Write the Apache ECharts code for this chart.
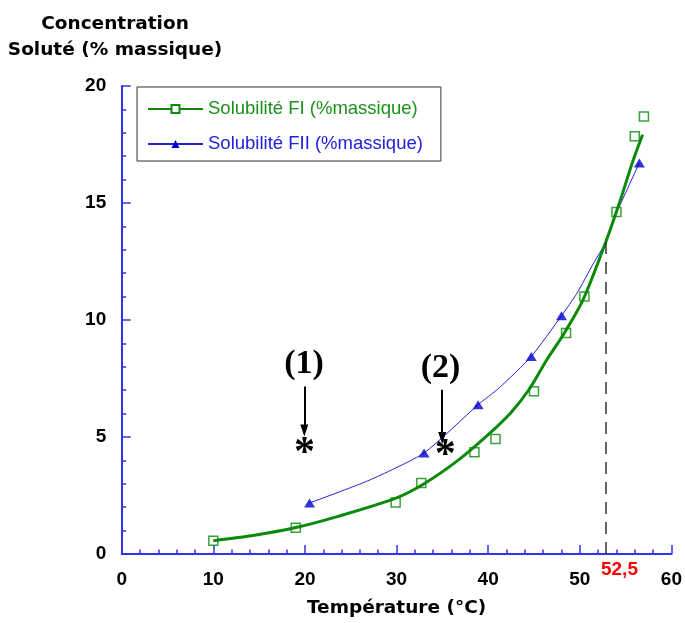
<!DOCTYPE html>
<html><head><meta charset="utf-8">
<script src="https://cdn.jsdelivr.net/npm/echarts@6/dist/echarts.min.js"></script>
<style>html,body{margin:0;padding:0;background:#fff}#c{width:685px;height:623px}</style>
</head><body><div id="c"></div>
<script>
// ---- data ----
const fiName = 'Solubilité FI (%massique)';
const fiiName = 'Solubilité FII (%massique)';
// fitted curve FI
const fiCurveX = [10, 14.5, 19, 23.7, 30, 33, 36.7, 40, 42.5, 44.5, 46.4, 48.4, 50.4, 52.8, 54.4, 55.8, 56.85];
const fiCurveY = [0.57, 0.8, 1.13, 1.62, 2.4, 3.0, 4.0, 5.1, 6.05, 7.05, 8.3, 9.5, 10.9, 13.3, 15.1, 16.8, 17.92];
// measured points FI (squares)
const fiX = [10.0, 19.0, 29.9, 32.7, 38.5, 40.8, 45.0, 48.5, 50.5, 54.0, 56.0, 57.0];
const fiY = [0.57, 1.12, 2.2, 3.03, 4.35, 4.91, 6.95, 9.44, 11.0, 14.62, 17.85, 18.7];
// measured points FII (triangles)
const fiiX = [20.5, 33.0, 38.9, 44.7, 48.0, 56.5];
const fiiY = [2.18, 4.32, 6.38, 8.44, 10.18, 16.71];
// thin blue line FII
const fiiCurveX = [20.5, 27, 33, 38.9, 41.2, 44.7, 48.0, 49.7, 51.5, 52.8, 54.0, 56.5];
const fiiCurveY = [2.18, 3.15, 4.32, 6.38, 7.1, 8.44, 10.18, 11.15, 12.43, 13.3, 14.57, 16.71];
// annotations
const annText = ['(1)', '(2)'];
const annX = [19.9, 34.8];
const annY = [8.09, 7.95];
const arrowX = [19.93, 34.98];
const arrowTop = [7.16, 7.02];
const arrowTip = [5.28, 4.96];
const starX = [19.95, 35.3];
const starY = [4.63, 4.53];
const crossX = 52.8, crossTop = 13.5, crossText = '52,5';
// axes
const xMin = 0, xMax = 60, xStep = 10;
const yMin = 0, yMax = 20, yStep = 5;
const xTitle = 'Température (°C)';
const yTitle = ['Concentration', 'Soluté (% massique)'];

const green = '#0a8a0a', blue = '#0000cc', axisBlue = '#3333ee';
const zip = (a, b) => a.map((v, i) => [v, b[i]]);

const chart = echarts.init(document.getElementById('c'), null, {renderer: 'canvas'});
const axisCommon = {
  axisLine: {show: true, lineStyle: {color: axisBlue, width: 2}},
  axisTick: {show: true, inside: true, length: 9, lineStyle: {color: axisBlue, width: 1.5}},
  minorTick: {show: true, splitNumber: 5, length: 4.5, lineStyle: {color: axisBlue, width: 1.5}},
  splitLine: {show: false},
  axisLabel: {color: '#000', fontFamily: 'Liberation Sans', fontWeight: 'bold', fontSize: 19}
};
const plainLabel = {show: true, position: [0.5, 0.5], align: 'center', verticalAlign: 'middle',
  textBorderWidth: 0, textShadowBlur: 0, opacity: 1};
chart.setOption({
  animation: false,
  backgroundColor: '#fff',
  grid: {left: 121.7, right: 10, top: 86, bottom: 68.7, containLabel: false},
  graphic: [{
    type: 'text', x: 115, y: 37,
    style: {text: yTitle.join('\n'), align: 'center', verticalAlign: 'middle', lineHeight: 26,
      font: 'bold 18.5px "DejaVu Sans"', fill: '#000'}
  }],
  legend: {
    orient: 'vertical', left: 137, top: 87,
    data: [{name: fiName, textStyle: {color: '#1a921a'}}, {name: fiiName, textStyle: {color: '#2020dd'}}],
    itemWidth: 55, itemHeight: 10, itemGap: 15,
    padding: [12, 18, 7, 10],
    borderColor: '#333', borderWidth: 1,
    selectedMode: false,
    textStyle: {fontFamily: 'Liberation Sans', fontSize: 18.5, lineHeight: 20}
  },
  xAxis: Object.assign({}, axisCommon, {
    type: 'value', min: xMin, max: xMax, interval: xStep,
    axisLabel: Object.assign({}, axisCommon.axisLabel, {margin: 16}),
    name: xTitle, nameLocation: 'middle', nameGap: 45,
    nameTextStyle: {fontFamily: 'DejaVu Sans', fontWeight: 'bold', fontSize: 18.5, color: '#000'}
  }),
  yAxis: Object.assign({}, axisCommon, {
    type: 'value', min: yMin, max: yMax, interval: yStep,
    axisLabel: Object.assign({}, axisCommon.axisLabel, {margin: 15.5})
  }),
  series: [
    {
      name: fiName, type: 'line', data: zip(fiCurveX, fiCurveY), smooth: 0.3,
      symbol: 'emptyRect', showSymbol: false, z: 3,
      lineStyle: {color: green, width: 3}, itemStyle: {color: green}
    },
    {
      name: fiName, type: 'scatter', data: zip(fiX, fiY), symbol: 'rect', symbolSize: 9, z: 4,
      itemStyle: {color: 'rgba(0,0,0,0)', borderColor: green, borderWidth: 1.5}
    },
    {
      name: fiiName, type: 'line', data: zip(fiiCurveX, fiiCurveY), smooth: 0.2,
      symbol: 'triangle', showSymbol: false, z: 2,
      lineStyle: {color: '#2222dd', width: 1}, itemStyle: {color: blue}
    },
    {
      name: fiiName, type: 'scatter', data: zip(fiiX, fiiY), symbol: 'triangle', symbolSize: [11, 9], z: 4,
      itemStyle: {color: blue}
    },
    {
      type: 'scatter', data: zip(annX, annY).map((p, i) => ({value: p, label: {formatter: annText[i]}})),
      symbol: 'circle', symbolSize: 1, itemStyle: {color: 'rgba(0,0,0,0)'}, z: 5, silent: true,
      label: Object.assign({}, plainLabel, {color: '#000', fontFamily: 'Liberation Serif', fontWeight: 'bold', fontSize: 34}),
      markLine: {
        silent: true, symbol: ['none', 'triangle'], symbolSize: [8, 12], animation: false,
        label: {show: false},
        lineStyle: {color: '#000', width: 2, type: 'solid'},
        data: arrowX.map((x, i) => [{coord: [x, arrowTop[i]]}, {coord: [x, arrowTip[i]]}])
      }
    },
    {
      type: 'scatter', data: zip(starX, starY), symbol: 'circle', symbolSize: 1,
      itemStyle: {color: 'rgba(0,0,0,0)'}, z: 5, silent: true,
      label: Object.assign({}, plainLabel, {formatter: '*', offset: [0, 8], color: '#000',
        fontFamily: 'Liberation Serif', fontWeight: 'bold', fontSize: 42})
    },
    {
      type: 'scatter', data: [[crossX, 0]], symbol: 'circle', symbolSize: 1,
      itemStyle: {color: 'rgba(0,0,0,0)'}, z: 5, silent: true,
      label: Object.assign({}, plainLabel, {formatter: crossText, offset: [14, 16], color: '#ff0000',
        fontFamily: 'Liberation Sans', fontWeight: 'bold', fontSize: 19}),
      markLine: {
        silent: true, symbol: ['none', 'none'], animation: false, label: {show: false},
        lineStyle: {color: '#333', width: 1.5, type: [12, 8]},
        data: [[{coord: [crossX, 0]}, {coord: [crossX, crossTop]}]]
      }
    }
  ]
});
</script></body></html>
